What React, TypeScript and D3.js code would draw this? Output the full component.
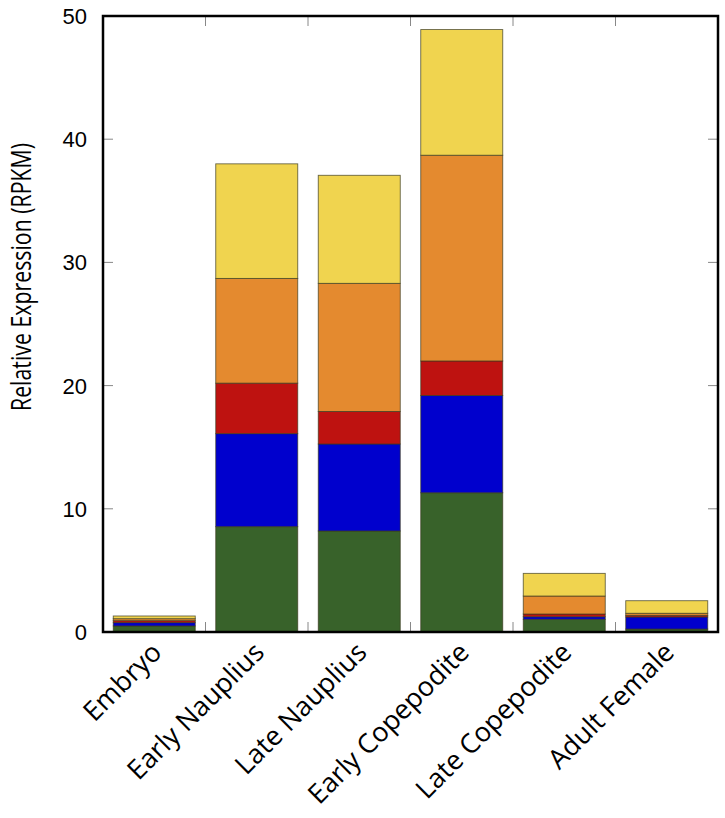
import React from "react";
import * as d3 from "d3";

const categories = ["Embryo", "Early Nauplius", "Late Nauplius", "Early Copepodite", "Late Copepodite", "Adult Female"];
const seriesNames = ["s1", "s2", "s3", "s4", "s5"];
const green = [0.49, 8.55, 8.2, 11.3, 1.03, 0.24];
const blue = [0.27, 7.55, 7.06, 7.9, 0.21, 0.98];
const red = [0.16, 4.1, 2.64, 2.8, 0.22, 0.13];
const orange = [0.16, 8.5, 10.4, 16.7, 1.46, 0.17];
const yellow = [0.22, 9.3, 8.77, 10.2, 1.84, 1.02];
const yTicks = [0, 10, 20, 30, 40, 50];
const colors = ["#38622a", "#0000cd", "#be1210", "#e48a2f", "#f0d44f"];

const W = 725, H = 818;
const L = 103, R = 718, T = 16, B = 632;

export default function App() {
  const x = d3.scaleLinear().domain([0, categories.length]).range([L, R]);
  const y = d3.scaleLinear().domain([0, 50]).range([B, T]);
  const rows = categories.map((c, i) => ({ c, s1: green[i], s2: blue[i], s3: red[i], s4: orange[i], s5: yellow[i] }));
  const stack = d3.stack<any>().keys(seriesNames)(rows);
  const bw = 0.8;
  return (
    <svg width={W} height={H} style={{ position: "absolute", left: 0, top: 0 }}>
      <rect width={W} height={H} fill="#fff" />
      {stack.map((layer, li) => (
        <g key={li} fill={colors[li]}>
          {layer.map((d, i) => (
            <rect
              key={i}
              x={x(i + 0.1)}
              width={x(i + 0.1 + bw) - x(i + 0.1)}
              y={y(d[1])}
              height={y(d[0]) - y(d[1])}
              stroke="#3a3a20"
              strokeOpacity={0.75}
              strokeWidth={0.9}
            />
          ))}
        </g>
      ))}
      <g stroke="#888" strokeWidth={1}>
        {yTicks.map((t) => (
          <g key={t}>
            <line x1={L} x2={L + 10} y1={y(t)} y2={y(t)} />
            <line x1={R} x2={R - 10} y1={y(t)} y2={y(t)} />
          </g>
        ))}
        {d3.range(1, categories.length).map((i) => (
          <g key={i}>
            <line x1={x(i)} x2={x(i)} y1={B} y2={B - 10} />
            <line x1={x(i)} x2={x(i)} y1={T} y2={T + 10} />
          </g>
        ))}
      </g>
      <rect x={L} y={T} width={R - L} height={B - T} fill="none" stroke="#000" strokeWidth={2.5} />
      {yTicks.map((t) => (
        <text key={t} x={L - 16} y={y(t)} dy="0.36em" textAnchor="end" fontFamily="'Liberation Sans', Arial, sans-serif" fontSize={22} fill="#000">
          {t}
        </text>
      ))}
      <text
        transform={`translate(31,277) rotate(-90)`}
        textAnchor="middle"
        fontFamily="'Open Sans', sans-serif"
        fontSize={28}
        textLength={268}
        lengthAdjust="spacingAndGlyphs"
        fill="#000"
      >
        Relative Expression (RPKM)
      </text>
      {categories.map((c, i) => (
        <text
          key={c}
          transform={`translate(${x(i + 0.5) + 9},${B + 22}) rotate(-45)`}
          textAnchor="end"
          fontFamily="'Open Sans', sans-serif"
          fontSize={27}
          fill="#000"
        >
          {c}
        </text>
      ))}
    </svg>
  );
}
